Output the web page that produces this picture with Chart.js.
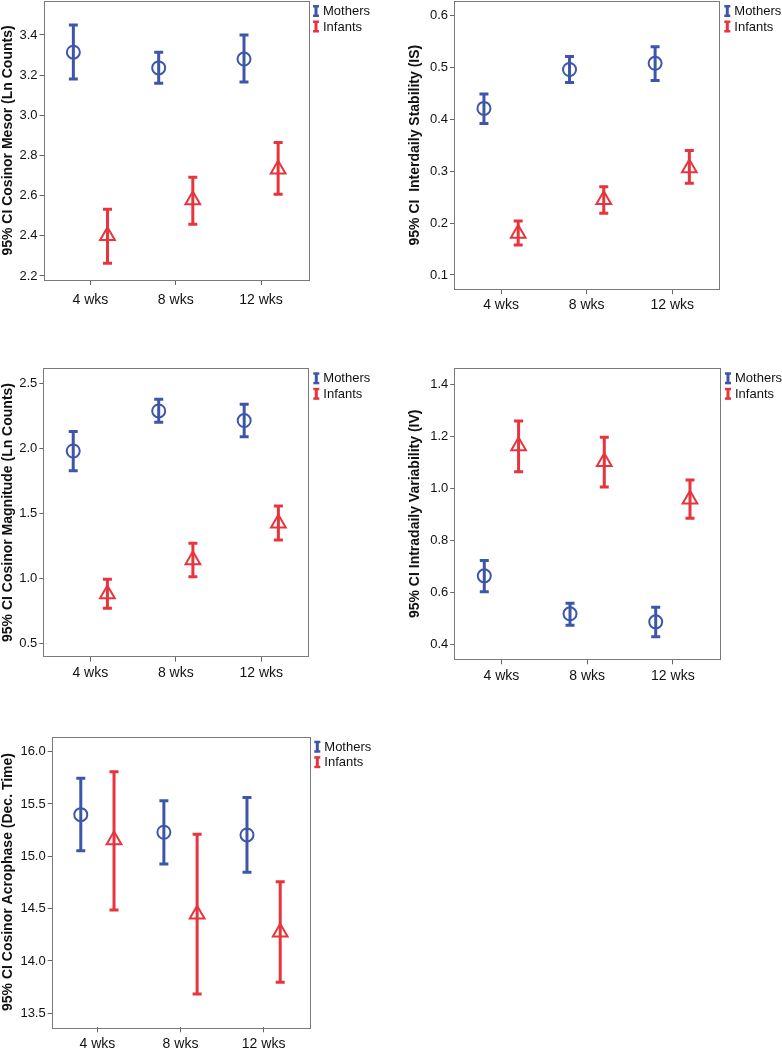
<!DOCTYPE html>
<html>
<head>
<meta charset="utf-8">
<script src="https://cdn.jsdelivr.net/npm/chart.js@4.4.0/dist/chart.umd.min.js"></script>
<style>
  html, body { margin: 0; padding: 0; background: #ffffff; }
  #page { position: relative; width: 782px; height: 1048px; overflow: hidden; background: #fff; }
  canvas { position: absolute; }
</style>
</head>
<body>
<div id="page"></div>
<script>
// ---------------- DATA ----------------
const categories = ['4 wks', '8 wks', '12 wks'];
const groupLabels = ['Mothers', 'Infants'];

// Panel 1: Cosinor Mesor (Ln Counts)
const mesorMothersMean = [3.314, 3.236, 3.280];
const mesorMothersLow  = [3.181, 3.159, 3.166];
const mesorMothersHigh = [3.450, 3.314, 3.400];
const mesorInfantsMean = [2.400, 2.578, 2.731];
const mesorInfantsLow  = [2.263, 2.457, 2.607];
const mesorInfantsHigh = [2.532, 2.692, 2.864];
const mesorTicks = [2.2, 2.4, 2.6, 2.8, 3.0, 3.2, 3.4];

// Panel 2: Interdaily Stability (IS)
const isMothersMean = [0.421, 0.496, 0.508];
const isMothersLow  = [0.392, 0.471, 0.475];
const isMothersHigh = [0.449, 0.521, 0.540];
const isInfantsMean = [0.180, 0.245, 0.306];
const isInfantsLow  = [0.158, 0.219, 0.277];
const isInfantsHigh = [0.204, 0.270, 0.340];
const isTicks = [0.1, 0.2, 0.3, 0.4, 0.5, 0.6];

// Panel 3: Cosinor Magnitude (Ln Counts)
const magMothersMean = [1.979, 2.287, 2.213];
const magMothersLow  = [1.828, 2.200, 2.089];
const magMothersHigh = [2.128, 2.377, 2.338];
const magInfantsMean = [0.879, 1.141, 1.423];
const magInfantsLow  = [0.769, 1.012, 1.295];
const magInfantsHigh = [0.992, 1.269, 1.556];
const magTicks = [0.5, 1.0, 1.5, 2.0, 2.5];

// Panel 4: Intradaily Variability (IV)
const ivMothersMean = [0.663, 0.517, 0.486];
const ivMothersLow  = [0.602, 0.473, 0.429];
const ivMothersHigh = [0.722, 0.558, 0.542];
const ivInfantsMean = [1.163, 1.102, 0.958];
const ivInfantsLow  = [1.064, 1.005, 0.885];
const ivInfantsHigh = [1.259, 1.196, 1.032];
const ivTicks = [0.4, 0.6, 0.8, 1.0, 1.2, 1.4];

// Panel 5: Cosinor Acrophase (Dec. Time)
const acroMothersMean = [15.398, 15.230, 15.204];
const acroMothersLow  = [15.054, 14.927, 14.848];
const acroMothersHigh = [15.746, 15.532, 15.561];
const acroInfantsMean = [15.156, 14.446, 14.274];
const acroInfantsLow  = [14.488, 13.685, 13.797];
const acroInfantsHigh = [15.809, 15.211, 14.757];
const acroTicks = [13.5, 14.0, 14.5, 15.0, 15.5, 16.0];

// ---------------- STYLE / LAYOUT ----------------
const BLUE = '#3d56a9';
const RED = '#e8343c';
const FONT = "'Liberation Sans', Arial, Helvetica, sans-serif";
const GROUP_OFFSET = 0.2;

const panels = [
  { title: '95% CI Cosinor Mesor (Ln Counts)', ticks: mesorTicks,
    mothers: [mesorMothersMean, mesorMothersLow, mesorMothersHigh],
    infants: [mesorInfantsMean, mesorInfantsLow, mesorInfantsHigh],
    yMin: 2.180, yMax: 3.569,
    canvas: { x: 0, y: 0, w: 390, h: 330 }, area: { l: 43.5, t: 1, r: 308, b: 280 }, labelGap: 20 },
  { title: '95% CI  Interdaily Stability (IS)', ticks: isTicks,
    mothers: [isMothersMean, isMothersLow, isMothersHigh],
    infants: [isInfantsMean, isInfantsLow, isInfantsHigh],
    yMin: 0.0724, yMax: 0.628,
    canvas: { x: 407, y: 0, w: 375, h: 330 }, area: { l: 454, t: 1, r: 719.3, b: 289.3 }, labelGap: 16 },
  { title: '95% CI Cosinor Magnitude (Ln Counts)', ticks: magTicks,
    mothers: [magMothersMean, magMothersLow, magMothersHigh],
    infants: [magInfantsMean, magInfantsLow, magInfantsHigh],
    yMin: 0.397, yMax: 2.615,
    canvas: { x: 0, y: 340, w: 390, h: 345 }, area: { l: 43.3, t: 368.3, r: 308.3, b: 656.7 }, labelGap: 16.5 },
  { title: '95% CI Intradaily Variability (IV)', ticks: ivTicks,
    mothers: [ivMothersMean, ivMothersLow, ivMothersHigh],
    infants: [ivInfantsMean, ivInfantsLow, ivInfantsHigh],
    yMin: 0.342, yMax: 1.4615,
    canvas: { x: 407, y: 340, w: 375, h: 345 }, area: { l: 454.3, t: 368.3, r: 720, b: 659.3 }, labelGap: 16.7 },
  { title: '95% CI Cosinor Acrophase (Dec. Time)', ticks: acroTicks,
    mothers: [acroMothersMean, acroMothersLow, acroMothersHigh],
    infants: [acroInfantsMean, acroInfantsLow, acroInfantsHigh],
    yMin: 13.366, yMax: 16.143,
    canvas: { x: 0, y: 700, w: 390, h: 348 }, area: { l: 51.7, t: 736.7, r: 309.3, b: 1027.3 }, labelGap: 17 }
];

// ---------------- PLUGINS ----------------
const errorBarPlugin = {
  id: 'errorBars',
  beforeDatasetsDraw(chart) {
    const ctx = chart.ctx;
    const xs = chart.scales.x, ys = chart.scales.y;
    ctx.save();
    chart.data.datasets.forEach(ds => {
      ctx.strokeStyle = ds.borderColor;
      ctx.lineWidth = 3;
      ctx.lineCap = 'butt';
      ds.data.forEach((pt, i) => {
        const px = xs.getPixelForValue(pt.x);
        const yl = ys.getPixelForValue(ds.errLow[i]);
        const yh = ys.getPixelForValue(ds.errHigh[i]);
        ctx.beginPath();
        ctx.moveTo(px, yl); ctx.lineTo(px, yh);
        ctx.moveTo(px - 4.5, yl); ctx.lineTo(px + 4.5, yl);
        ctx.moveTo(px - 4.5, yh); ctx.lineTo(px + 4.5, yh);
        ctx.stroke();
      });
    });
    ctx.restore();
  }
};

const frameLegendPlugin = {
  id: 'frameLegend',
  afterDraw(chart) {
    const ctx = chart.ctx;
    const a = chart.chartArea;
    ctx.save();
    ctx.strokeStyle = '#7a7a7a';
    ctx.lineWidth = 1;
    ctx.strokeRect(Math.round(a.left) + 0.5, Math.round(a.top) + 0.5,
                   Math.round(a.right - a.left), Math.round(a.bottom - a.top));
    // legend
    ctx.font = '13px ' + FONT;
    ctx.textBaseline = 'middle';
    ctx.textAlign = 'left';
    chart.data.datasets.forEach((ds, k) => {
      const cy = a.top + 10 + k * 15.5;
      const ix = a.right + 8;
      ctx.fillStyle = ds.borderColor;
      ctx.fillRect(ix - 1.5, cy - 5.5, 3, 11);
      ctx.fillRect(ix - 3, cy - 6, 6, 2.5);
      ctx.fillRect(ix - 3, cy + 3.5, 6, 2.5);
      ctx.fillStyle = '#111';
      ctx.fillText(ds.label, a.right + 15, cy + 0.5);
    });
    ctx.restore();
  }
};

// ---------------- BUILD ----------------
const page = document.getElementById('page');

function makeDataset(label, color, style, radius, arrs, offset) {
  const [mean, low, high] = arrs;
  return {
    label: label,
    data: mean.map((v, i) => ({ x: i + offset, y: v })),
    errLow: low,
    errHigh: high,
    borderColor: color,
    backgroundColor: 'rgba(0,0,0,0)',
    pointStyle: style,
    pointRadius: radius,
    pointHoverRadius: radius,
    pointBorderWidth: 2,
    showLine: false
  };
}

panels.forEach(p => {
  const cv = document.createElement('canvas');
  cv.width = p.canvas.w; cv.height = p.canvas.h;
  cv.style.left = p.canvas.x + 'px'; cv.style.top = p.canvas.y + 'px';
  cv.style.width = p.canvas.w + 'px'; cv.style.height = p.canvas.h + 'px';
  page.appendChild(cv);

  const relL = p.area.l - p.canvas.x;
  const relT = p.area.t - p.canvas.y;
  const relR = p.area.r - p.canvas.x;
  const relB = p.area.b - p.canvas.y;
  const xTickLen = 5;
  const xFont = 14;
  const xPad = p.labelGap - xTickLen - xFont * 1.2 / 2;

  new Chart(cv, {
    type: 'scatter',
    data: {
      datasets: [
        makeDataset(groupLabels[0], BLUE, 'circle', 6.5, p.mothers, -GROUP_OFFSET),
        makeDataset(groupLabels[1], RED, 'triangle', 8.5, p.infants, GROUP_OFFSET)
      ]
    },
    options: {
      responsive: false,
      animation: false,
      devicePixelRatio: 1,
      layout: { autoPadding: false, padding: { left: 0, top: relT, right: p.canvas.w - relR, bottom: 0 } },
      plugins: { legend: { display: false }, tooltip: { enabled: false } },
      scales: {
        x: {
          type: 'linear', min: -0.55, max: 2.55,
          grid: { display: true, drawOnChartArea: false, drawTicks: true, tickLength: xTickLen, color: '#666', lineWidth: 1 },
          border: { display: false },
          ticks: { font: { family: FONT, size: xFont }, color: '#111', padding: xPad, maxRotation: 0,
                    callback: (v) => categories[Math.round(v)] },
          afterBuildTicks: (s) => { s.ticks = categories.map((c, i) => ({ value: i })); },
          afterFit: (s) => { s.height = p.canvas.h - relB; s.paddingLeft = 0; s.paddingRight = 0; }
        },
        y: {
          type: 'linear', min: p.yMin, max: p.yMax,
          grid: { display: true, drawOnChartArea: false, drawTicks: true, tickLength: 4, color: '#666', lineWidth: 1 },
          border: { display: false },
          ticks: { font: { family: FONT, size: 13 }, color: '#111', padding: 2,
                   callback: (v) => Number(v).toFixed(1) },
          afterBuildTicks: (s) => { s.ticks = p.ticks.map(v => ({ value: v })); },
          afterFit: (s) => { s.width = relL; s.paddingTop = 0; s.paddingBottom = 0; },
          title: { display: true, text: p.title, color: '#111',
                   font: { family: FONT, size: 14, weight: 'bold' }, padding: { top: 0, bottom: 0 } }
        }
      }
    },
    plugins: [errorBarPlugin, frameLegendPlugin]
  });
});
</script>
</body>
</html>
